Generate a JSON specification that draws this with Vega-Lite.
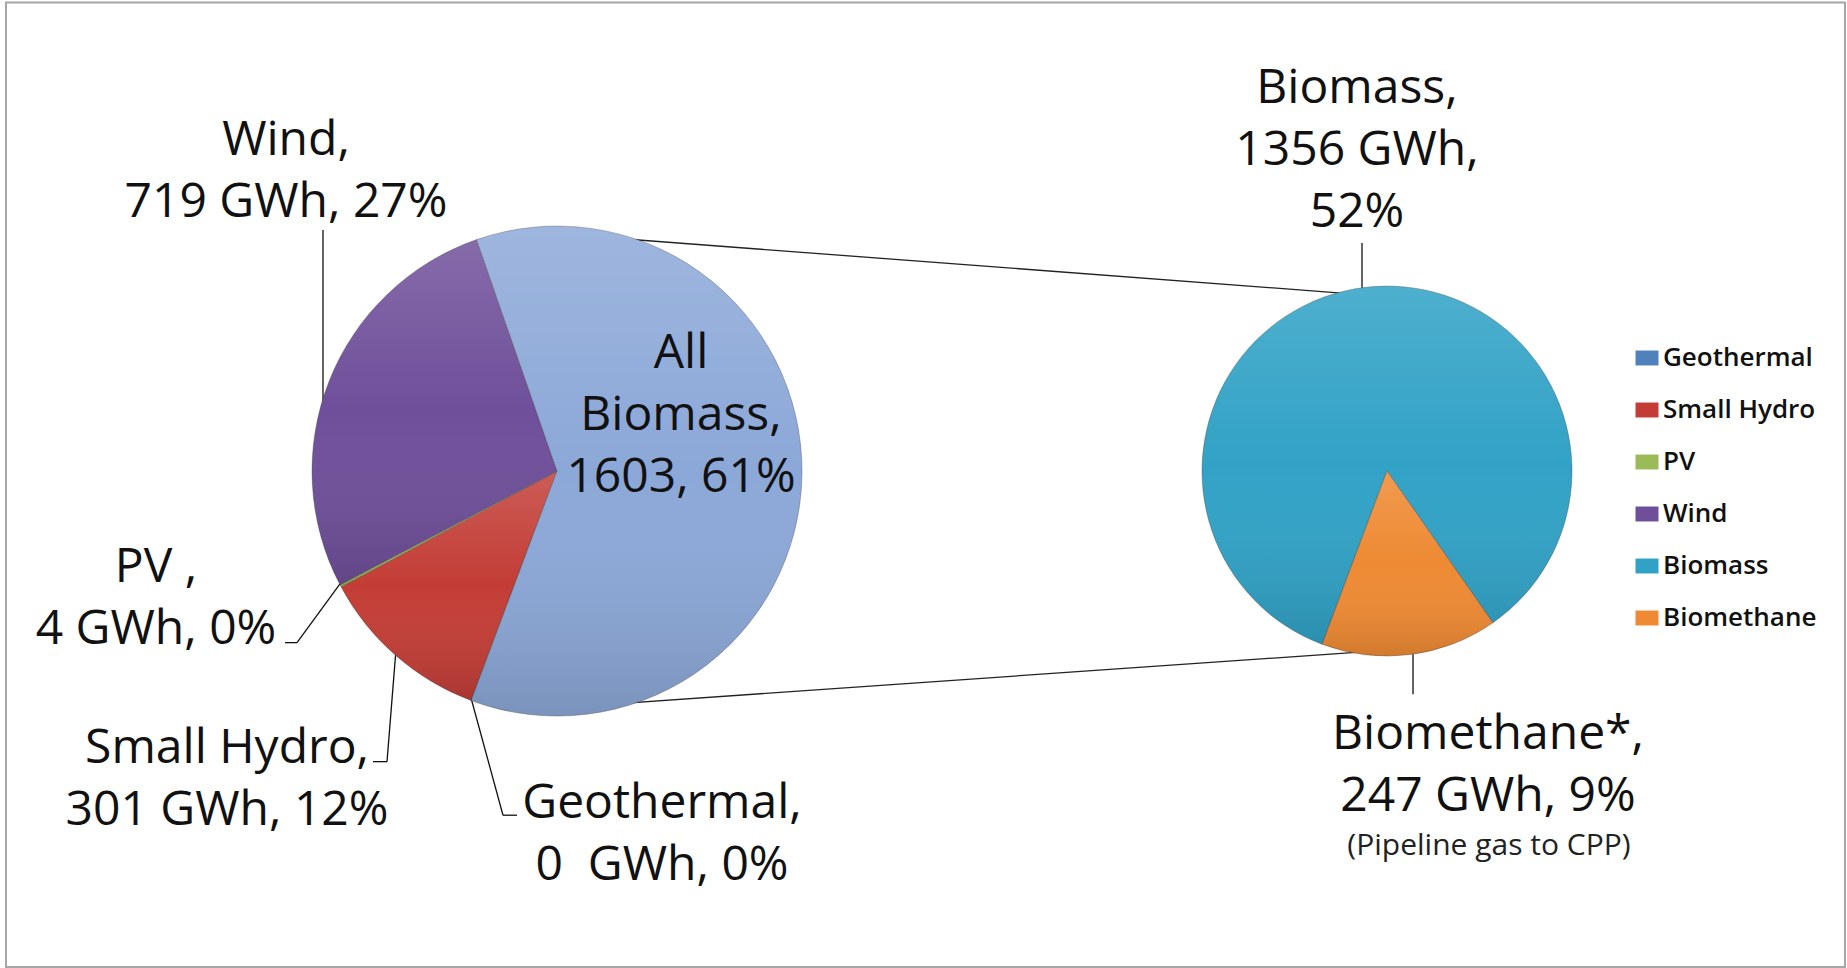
{
  "$schema": "https://vega.github.io/schema/vega-lite/v6.json",
  "width": 1847,
  "height": 968,
  "autosize": {"type": "fit", "contains": "padding"},
  "padding": 0,
  "background": "white",
  "config": {"view": {"stroke": null}, "font": "Open Sans", "text": {"font": "Open Sans"}},
  "datasets": {
    "slices": [
      {"pie": "main", "name": "Geothermal", "gwh": 0, "label": "Geothermal,\n0\u00a0 GWh, 0%"},
      {"pie": "main", "name": "Small Hydro", "gwh": 301, "label": "Small Hydro,\n301 GWh, 12%"},
      {"pie": "main", "name": "PV", "gwh": 4, "label": "PV ,\n4 GWh, 0%"},
      {"pie": "main", "name": "Wind", "gwh": 719, "label": "Wind,\n719 GWh, 27%"},
      {"pie": "main", "name": "All Biomass", "gwh": 1603, "label": "All\nBiomass,\n1603, 61%"},
      {"pie": "detail", "name": "Biomass", "gwh": 1356, "label": "Biomass,\n1356 GWh,\n52%"},
      {"pie": "detail", "name": "Biomethane", "gwh": 247, "label": "Biomethane*,\n247 GWh, 9%", "note": "(Pipeline gas to CPP)"}
    ]
  },
  "data": {"name": "slices"},
  "layer": [
    {"data": {"values": [{}]}, "mark": {"type": "rect", "fill": null, "stroke": "#a6a6a6", "strokeWidth": 2},
     "encoding": {"x": {"datum": 6, "type": "quantitative", "scale": {"domain": [0, 1847], "nice": false, "zero": false}, "axis": null},
                  "y": {"datum": 2.5, "type": "quantitative", "scale": {"domain": [0, 968], "reverse": true, "nice": false, "zero": false}, "axis": null},
                  "x2": {"datum": 1845}, "y2": {"datum": 975}}},
    {"data": {"values": [{}]}, "mark": {"type": "rule", "stroke": "#222", "strokeWidth": 1.3},
     "encoding": {"x": {"datum": 612, "type": "quantitative", "scale": {"domain": [0, 1847], "nice": false, "zero": false}, "axis": null},
                  "y": {"datum": 240, "type": "quantitative", "scale": {"domain": [0, 968], "reverse": true, "nice": false, "zero": false}, "axis": null},
                  "x2": {"datum": 1361}, "y2": {"datum": 297}}},
    {"data": {"values": [{}]}, "mark": {"type": "rule", "stroke": "#222", "strokeWidth": 1.3},
     "encoding": {"x": {"datum": 554, "type": "quantitative", "scale": {"domain": [0, 1847], "nice": false, "zero": false}, "axis": null},
                  "y": {"datum": 714, "type": "quantitative", "scale": {"domain": [0, 968], "reverse": true, "nice": false, "zero": false}, "axis": null},
                  "x2": {"datum": 1395}, "y2": {"datum": 655}}},
    {"data": {"values": [{}]}, "mark": {"type": "rule", "stroke": "#111", "strokeWidth": 1.3},
     "encoding": {"x": {"datum": 323, "type": "quantitative", "scale": {"domain": [0, 1847], "nice": false, "zero": false}, "axis": null},
                  "y": {"datum": 232, "type": "quantitative", "scale": {"domain": [0, 968], "reverse": true, "nice": false, "zero": false}, "axis": null},
                  "x2": {"datum": 323}, "y2": {"datum": 420}}},
    {"data": {"values": [{}]}, "mark": {"type": "rule", "stroke": "#111", "strokeWidth": 1.3},
     "encoding": {"x": {"datum": 285, "type": "quantitative", "scale": {"domain": [0, 1847], "nice": false, "zero": false}, "axis": null},
                  "y": {"datum": 648, "type": "quantitative", "scale": {"domain": [0, 968], "reverse": true, "nice": false, "zero": false}, "axis": null},
                  "x2": {"datum": 297}, "y2": {"datum": 648}}},
    {"data": {"values": [{}]}, "mark": {"type": "rule", "stroke": "#111", "strokeWidth": 1.3},
     "encoding": {"x": {"datum": 297, "type": "quantitative", "scale": {"domain": [0, 1847], "nice": false, "zero": false}, "axis": null},
                  "y": {"datum": 648, "type": "quantitative", "scale": {"domain": [0, 968], "reverse": true, "nice": false, "zero": false}, "axis": null},
                  "x2": {"datum": 342}, "y2": {"datum": 586}}},
    {"data": {"values": [{}]}, "mark": {"type": "rule", "stroke": "#111", "strokeWidth": 1.3},
     "encoding": {"x": {"datum": 373, "type": "quantitative", "scale": {"domain": [0, 1847], "nice": false, "zero": false}, "axis": null},
                  "y": {"datum": 768, "type": "quantitative", "scale": {"domain": [0, 968], "reverse": true, "nice": false, "zero": false}, "axis": null},
                  "x2": {"datum": 387}, "y2": {"datum": 768}}},
    {"data": {"values": [{}]}, "mark": {"type": "rule", "stroke": "#111", "strokeWidth": 1.3},
     "encoding": {"x": {"datum": 387, "type": "quantitative", "scale": {"domain": [0, 1847], "nice": false, "zero": false}, "axis": null},
                  "y": {"datum": 768, "type": "quantitative", "scale": {"domain": [0, 968], "reverse": true, "nice": false, "zero": false}, "axis": null},
                  "x2": {"datum": 396}, "y2": {"datum": 655}}},
    {"data": {"values": [{}]}, "mark": {"type": "rule", "stroke": "#111", "strokeWidth": 1.3},
     "encoding": {"x": {"datum": 517, "type": "quantitative", "scale": {"domain": [0, 1847], "nice": false, "zero": false}, "axis": null},
                  "y": {"datum": 822, "type": "quantitative", "scale": {"domain": [0, 968], "reverse": true, "nice": false, "zero": false}, "axis": null},
                  "x2": {"datum": 503}, "y2": {"datum": 822}}},
    {"data": {"values": [{}]}, "mark": {"type": "rule", "stroke": "#111", "strokeWidth": 1.3},
     "encoding": {"x": {"datum": 503, "type": "quantitative", "scale": {"domain": [0, 1847], "nice": false, "zero": false}, "axis": null},
                  "y": {"datum": 822, "type": "quantitative", "scale": {"domain": [0, 968], "reverse": true, "nice": false, "zero": false}, "axis": null},
                  "x2": {"datum": 470}, "y2": {"datum": 700}}},
    {"data": {"values": [{}]}, "mark": {"type": "rule", "stroke": "#111", "strokeWidth": 1.3},
     "encoding": {"x": {"datum": 1362, "type": "quantitative", "scale": {"domain": [0, 1847], "nice": false, "zero": false}, "axis": null},
                  "y": {"datum": 245, "type": "quantitative", "scale": {"domain": [0, 968], "reverse": true, "nice": false, "zero": false}, "axis": null},
                  "x2": {"datum": 1362}, "y2": {"datum": 300}}},
    {"data": {"values": [{}]}, "mark": {"type": "rule", "stroke": "#111", "strokeWidth": 1.3},
     "encoding": {"x": {"datum": 1413, "type": "quantitative", "scale": {"domain": [0, 1847], "nice": false, "zero": false}, "axis": null},
                  "y": {"datum": 652, "type": "quantitative", "scale": {"domain": [0, 968], "reverse": true, "nice": false, "zero": false}, "axis": null},
                  "x2": {"datum": 1413}, "y2": {"datum": 700}}},
    {"transform": [{"filter": "datum.pie == 'main'"}, {"stack": "gwh", "groupby": ["pie"], "offset": "normalize", "as": ["t0", "t1"]}],
     "mark": {"type": "arc", "outerRadius": 245, "stroke": "#3c3c3c", "strokeWidth": 0.7, "strokeOpacity": 0.5},
     "encoding": {
       "theta": {"field": "t0", "type": "quantitative", "scale": {"domain": [0, 1], "range": [3.5, 9.7832]}},
       "theta2": {"field": "t1"},
       "color": {"field": "name", "type": "nominal",
                 "scale": {"domain": ["Geothermal", "Small Hydro", "PV", "Wind", "Biomass", "Biomethane", "All Biomass"],
                           "range": ["#4F81BD", "#C33D36", "#9BBB59", "#6F4F9A", "#31A2C6", "#EE8A33", "#8CA8D8"]},
                 "legend": {"title": null, "orient": "none", "legendX": 1634, "legendY": 345,
                            "values": ["Geothermal", "Small Hydro", "PV", "Wind", "Biomass", "Biomethane"],
                            "symbolType": "M-1,-0.65H1V0.65H-1Z", "symbolSize": 529, "symbolStrokeWidth": 0,
                            "labelFont": "Open Sans", "labelFontSize": 26, "labelFontWeight": 600, "labelColor": "#111",
                            "rowPadding": 26, "labelOffset": 3, "padding": 0, "labelLimit": 300, "symbolOpacity": 1}},
       "x": {"datum": 557, "type": "quantitative", "scale": {"domain": [0, 1847], "nice": false, "zero": false}, "axis": null, "stack": null},
       "y": {"datum": 475, "type": "quantitative", "scale": {"domain": [0, 968], "reverse": true, "nice": false, "zero": false}, "axis": null, "stack": null}
     }},
    {"transform": [{"filter": "datum.pie == 'main'"}, {"stack": "gwh", "groupby": ["pie"], "offset": "normalize", "as": ["t0", "t1"]}],
     "mark": {"type": "arc", "outerRadius": 245, "strokeWidth": 0,
              "fill": {"gradient": "linear", "x1": 0, "y1": 0, "x2": 0, "y2": 1,
                       "stops": [{"offset": 0, "color": "rgba(255,255,255,0.16)"}, {"offset": 0.5, "color": "rgba(255,255,255,0)"}, {"offset": 1, "color": "rgba(0,0,0,0.13)"}]}},
     "encoding": {
       "theta": {"field": "t0", "type": "quantitative", "scale": {"domain": [0, 1], "range": [3.5, 9.7832]}},
       "theta2": {"field": "t1"},
       "x": {"datum": 557, "type": "quantitative", "scale": {"domain": [0, 1847], "nice": false, "zero": false}, "axis": null, "stack": null},
       "y": {"datum": 475, "type": "quantitative", "scale": {"domain": [0, 968], "reverse": true, "nice": false, "zero": false}, "axis": null, "stack": null}
     }},
    {"transform": [{"filter": "datum.pie == 'detail'"}, {"stack": "gwh", "groupby": ["pie"], "offset": "normalize", "as": ["t0", "t1"]}],
     "mark": {"type": "arc", "outerRadius": 185, "stroke": "#3c3c3c", "strokeWidth": 0.7, "strokeOpacity": 0.5},
     "encoding": {
       "theta": {"field": "t0", "type": "quantitative", "scale": {"domain": [0, 1], "range": [3.5, 9.7832]}},
       "theta2": {"field": "t1"},
       "color": {"field": "name", "type": "nominal"},
       "x": {"datum": 1387, "type": "quantitative", "scale": {"domain": [0, 1847], "nice": false, "zero": false}, "axis": null, "stack": null},
       "y": {"datum": 475, "type": "quantitative", "scale": {"domain": [0, 968], "reverse": true, "nice": false, "zero": false}, "axis": null, "stack": null}
     }},
    {"transform": [{"filter": "datum.pie == 'detail'"}, {"stack": "gwh", "groupby": ["pie"], "offset": "normalize", "as": ["t0", "t1"]}],
     "mark": {"type": "arc", "outerRadius": 185, "strokeWidth": 0,
              "fill": {"gradient": "linear", "x1": 0, "y1": 0, "x2": 0, "y2": 1,
                       "stops": [{"offset": 0, "color": "rgba(255,255,255,0.14)"}, {"offset": 0.5, "color": "rgba(255,255,255,0)"}, {"offset": 1, "color": "rgba(0,0,0,0.12)"}]}},
     "encoding": {
       "theta": {"field": "t0", "type": "quantitative", "scale": {"domain": [0, 1], "range": [3.5, 9.7832]}},
       "theta2": {"field": "t1"},
       "x": {"datum": 1387, "type": "quantitative", "scale": {"domain": [0, 1847], "nice": false, "zero": false}, "axis": null, "stack": null},
       "y": {"datum": 475, "type": "quantitative", "scale": {"domain": [0, 968], "reverse": true, "nice": false, "zero": false}, "axis": null, "stack": null}
     }},
    {"transform": [{"filter": "datum.name == 'Wind'"}],
     "mark": {"type": "text", "lineBreak": "\n", "align": "center", "baseline": "alphabetic", "fontSize": 48, "lineHeight": 62, "color": "#111"},
     "encoding": {"text": {"field": "label"},
       "x": {"datum": 286, "type": "quantitative", "scale": {"domain": [0, 1847], "nice": false, "zero": false}, "axis": null},
       "y": {"datum": 156, "type": "quantitative", "scale": {"domain": [0, 968], "reverse": true, "nice": false, "zero": false}, "axis": null}}},
    {"transform": [{"filter": "datum.name == 'PV'"}],
     "mark": {"type": "text", "lineBreak": "\n", "align": "center", "baseline": "alphabetic", "fontSize": 48, "lineHeight": 62, "color": "#111"},
     "encoding": {"text": {"field": "label"},
       "x": {"datum": 156, "type": "quantitative", "scale": {"domain": [0, 1847], "nice": false, "zero": false}, "axis": null},
       "y": {"datum": 587, "type": "quantitative", "scale": {"domain": [0, 968], "reverse": true, "nice": false, "zero": false}, "axis": null}}},
    {"transform": [{"filter": "datum.name == 'Small Hydro'"}],
     "mark": {"type": "text", "lineBreak": "\n", "align": "center", "baseline": "alphabetic", "fontSize": 48, "lineHeight": 62, "color": "#111"},
     "encoding": {"text": {"field": "label"},
       "x": {"datum": 227, "type": "quantitative", "scale": {"domain": [0, 1847], "nice": false, "zero": false}, "axis": null},
       "y": {"datum": 769, "type": "quantitative", "scale": {"domain": [0, 968], "reverse": true, "nice": false, "zero": false}, "axis": null}}},
    {"transform": [{"filter": "datum.name == 'Geothermal'"}],
     "mark": {"type": "text", "lineBreak": "\n", "align": "center", "baseline": "alphabetic", "fontSize": 48, "lineHeight": 62, "color": "#111"},
     "encoding": {"text": {"field": "label"},
       "x": {"datum": 662, "type": "quantitative", "scale": {"domain": [0, 1847], "nice": false, "zero": false}, "axis": null},
       "y": {"datum": 825, "type": "quantitative", "scale": {"domain": [0, 968], "reverse": true, "nice": false, "zero": false}, "axis": null}}},
    {"transform": [{"filter": "datum.name == 'All Biomass'"}],
     "mark": {"type": "text", "lineBreak": "\n", "align": "center", "baseline": "alphabetic", "fontSize": 48, "lineHeight": 62, "color": "#111"},
     "encoding": {"text": {"field": "label"},
       "x": {"datum": 681, "type": "quantitative", "scale": {"domain": [0, 1847], "nice": false, "zero": false}, "axis": null},
       "y": {"datum": 371, "type": "quantitative", "scale": {"domain": [0, 968], "reverse": true, "nice": false, "zero": false}, "axis": null}}},
    {"transform": [{"filter": "datum.name == 'Biomass'"}],
     "mark": {"type": "text", "lineBreak": "\n", "align": "center", "baseline": "alphabetic", "fontSize": 48, "lineHeight": 62, "color": "#111"},
     "encoding": {"text": {"field": "label"},
       "x": {"datum": 1357, "type": "quantitative", "scale": {"domain": [0, 1847], "nice": false, "zero": false}, "axis": null},
       "y": {"datum": 104, "type": "quantitative", "scale": {"domain": [0, 968], "reverse": true, "nice": false, "zero": false}, "axis": null}}},
    {"transform": [{"filter": "datum.name == 'Biomethane'"}],
     "mark": {"type": "text", "lineBreak": "\n", "align": "center", "baseline": "alphabetic", "fontSize": 48, "lineHeight": 62, "color": "#111"},
     "encoding": {"text": {"field": "label"},
       "x": {"datum": 1488, "type": "quantitative", "scale": {"domain": [0, 1847], "nice": false, "zero": false}, "axis": null},
       "y": {"datum": 755, "type": "quantitative", "scale": {"domain": [0, 968], "reverse": true, "nice": false, "zero": false}, "axis": null}}},
    {"transform": [{"filter": "datum.name == 'Biomethane'"}],
     "mark": {"type": "text", "align": "center", "baseline": "alphabetic", "fontSize": 30, "color": "#222"},
     "encoding": {"text": {"field": "note"},
       "x": {"datum": 1489, "type": "quantitative", "scale": {"domain": [0, 1847], "nice": false, "zero": false}, "axis": null},
       "y": {"datum": 862, "type": "quantitative", "scale": {"domain": [0, 968], "reverse": true, "nice": false, "zero": false}, "axis": null}}}
  ]
}
